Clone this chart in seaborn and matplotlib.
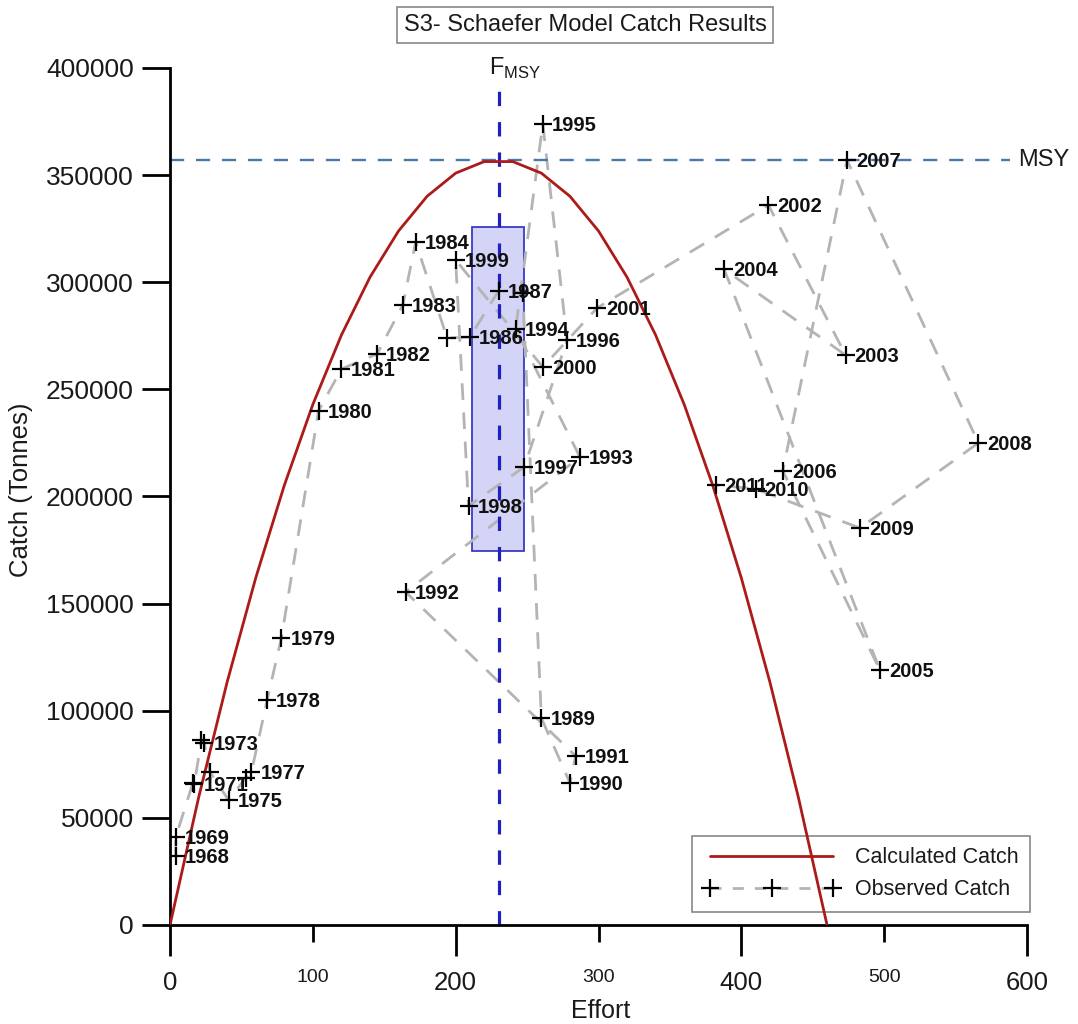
import numpy as np
import pandas as pd
import matplotlib
matplotlib.use("Agg")
import matplotlib.pyplot as plt
import seaborn as sns
from matplotlib.lines import Line2D
from matplotlib.patches import Rectangle

# ---------------- data ----------------
years = [1968, 1969, 1970, 1971, 1972, 1973, 1974, 1975, 1976, 1977,
         1978, 1979, 1980, 1981, 1982, 1983, 1984, 1985, 1986, 1987,
         1988, 1989, 1990, 1991, 1992, 1993, 1994, 1995, 1996, 1997,
         1998, 1999, 2000, 2001, 2002, 2003, 2004, 2005, 2006, 2007,
         2008, 2009, 2010, 2011]
effort = [4, 4, 16, 17, 22, 24, 28, 41, 53, 57,
          68, 78, 104, 120, 145, 163, 172, 194, 210, 230,
          247, 260, 280, 284, 165, 287, 242, 261, 278, 248,
          209, 200, 261, 299, 419, 473, 388, 497, 429, 474,
          566, 483, 410, 382]
catch = [32000, 41000, 66300, 65800, 86300, 84800, 71400, 58300, 68600, 71400,
         105000, 134000, 240000, 259500, 266500, 289400, 318800, 274000, 274400, 296000,
         295000, 96600, 66300, 78900, 155400, 218400, 278200, 373900, 273000, 213800,
         195600, 310400, 260400, 288000, 336000, 266000, 306000, 119000, 212000, 357000,
         225000, 185300, 203500, 205400]
unlabeled_years = [1970, 1972, 1974, 1976, 1985, 1988]

curve_effort = [0, 20, 40, 60, 80, 100, 120, 140, 160, 180, 200, 220,
                240, 260, 280, 300, 320, 340, 360, 380, 400, 420, 440, 460]
curve_catch = [0, 59388, 113376, 161966, 205157, 242949, 275342, 302336, 323932, 340129,
               350926, 356325, 356325, 350926, 340129, 323932, 302336, 275342, 242949,
               205157, 161966, 113376, 59388, 0]

MSY = 357000
F_MSY = 230
box_effort = [211.5, 248]
box_catch = [174600, 325800]

x_major = [0, 200, 400, 600]
x_minor = [100, 300, 500]
y_ticks = [0, 50000, 100000, 150000, 200000, 250000, 300000, 350000, 400000]

# ---------------- style ----------------
sns.set_theme(style="white")
plt.rcParams['font.family'] = ['Liberation Sans', 'DejaVu Sans']
plt.rcParams['mathtext.fontset'] = 'custom'
plt.rcParams['mathtext.rm'] = 'Liberation Sans'

RED = '#ad1a1a'
GRAY = '#b4b4b4'
TXT = '#1a1a1a'

fig = plt.figure(figsize=(10.78, 10.24), dpi=100)
ax = fig.add_axes([170 / 1078, 1 - 925 / 1024, 857 / 1078, 857 / 1024])

# blue box around F_MSY
ax.add_patch(Rectangle((box_effort[0], box_catch[0]), box_effort[1] - box_effort[0],
                       box_catch[1] - box_catch[0], facecolor='#d4d4f7',
                       edgecolor='#3a3ac8', lw=1.3, zorder=1))

# calculated catch curve
sns.lineplot(x=curve_effort, y=curve_catch, color=RED, lw=2, ax=ax, zorder=3,
             sort=False, estimator=None)

# observed catch dashed path
df = pd.DataFrame({'year': years, 'effort': effort, 'catch': catch})
sns.lineplot(data=df, x='effort', y='catch', sort=False, estimator=None, color=GRAY,
             lw=2, linestyle=(0, (6, 4.5)), ax=ax, zorder=2)
sns.scatterplot(data=df, x='effort', y='catch', marker='+', s=170, color='black',
                linewidth=1.6, ax=ax, zorder=4)

for y, e, c in zip(years, effort, catch):
    if y in unlabeled_years:
        continue
    ax.annotate(str(y), (e, c), xytext=(6.5, -1), textcoords='offset points',
                ha='left', va='center', fontsize=14.5, fontweight='bold', color='#111111',
                zorder=5)

# MSY horizontal line
ax.plot([0, 588], [MSY, MSY], color='#4a78a8', lw=1.7, ls=(0, (6, 5)), zorder=2)
ax.text(594, MSY, 'MSY', ha='left', va='center', fontsize=17, color=TXT,
        clip_on=False)

# F_MSY vertical line
ax.plot([F_MSY, F_MSY], [0, 392000], color='#2020c0', lw=2.3, ls=(0, (4.5, 5)),
        zorder=2, clip_on=False)
ax.text(F_MSY - 7, 397000, r'F$_{\mathrm{MSY}}$', ha='left', va='baseline',
        fontsize=17, color=TXT, clip_on=False)

# axes
ax.set_xlim(0, 600)
ax.set_ylim(0, 400000)
ax.set_xticks(x_major)
ax.set_xticklabels([str(v) for v in x_major])
ax.set_xticks(x_minor, minor=True)
ax.set_xticklabels([str(v) for v in x_minor], minor=True)
ax.set_yticks(y_ticks)
ax.set_yticklabels([str(v) for v in y_ticks])
ax.tick_params(axis='x', which='major', length=22, width=2, direction='out',
               labelsize=18.5, pad=11, bottom=True, colors='black', labelcolor=TXT)
ax.tick_params(axis='x', which='minor', length=12, width=2, direction='out',
               labelsize=14, pad=20, bottom=True, colors='black', labelcolor=TXT)
ax.tick_params(axis='y', which='major', length=20, width=2, direction='out',
               labelsize=19, pad=6, left=True, colors='black', labelcolor=TXT)
sns.despine(ax=ax)
for s in ['left', 'bottom']:
    ax.spines[s].set_linewidth(2)
    ax.spines[s].set_color('black')
ax.grid(False)

ax.set_xlabel('Effort', fontsize=18, color=TXT)
ax.set_ylabel('Catch (Tonnes)', fontsize=18.5, color=TXT)
ax.xaxis.set_label_coords(0.502, -0.086)
ax.yaxis.set_label_coords(-0.160, 0.508)

# title
fig.text(585 / 1078, 1 - 25 / 1024, 'S3- Schaefer Model Catch Results', ha='center',
         va='center', fontsize=17, color=TXT,
         bbox=dict(boxstyle='square,pad=0.28', fc='white', ec='#888888', lw=1.2))

# legend
handles = [Line2D([], [], color=RED, lw=2),
           Line2D([], [], color=GRAY, lw=2, ls=(0, (4, 4)), marker='+', ms=13,
                  mec='black', mew=1.6)]
leg = ax.legend(handles, ['Calculated Catch', 'Observed Catch'], loc='lower right',
                bbox_to_anchor=(1030 / 1078, 1 - 912 / 1024),
                bbox_transform=fig.transFigure, frameon=True, fancybox=False,
                edgecolor='#888888', fontsize=15.5, handlelength=6.3, numpoints=3,
                borderpad=0.55, labelspacing=0.5, framealpha=1, borderaxespad=0,
                handletextpad=0.7)
leg.get_frame().set_linewidth(1.2)
leg.set_zorder(1)
for t in leg.get_texts():
    t.set_color(TXT)

fig.savefig('out.png', dpi=100)
